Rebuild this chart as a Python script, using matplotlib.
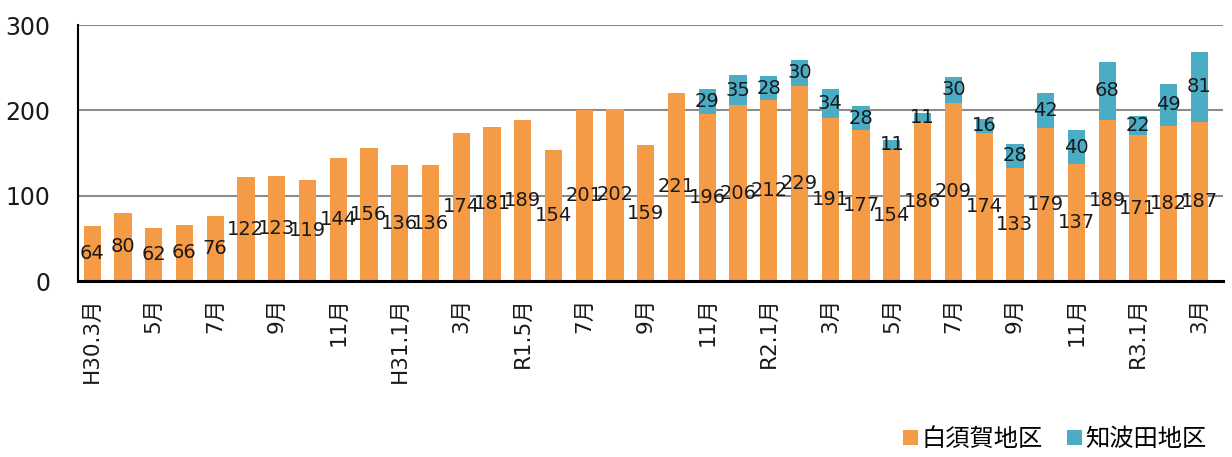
import matplotlib.pyplot as plt
import numpy as np

plt.rcParams['font.family'] = ['DejaVu Sans', 'Noto Sans CJK JP']

# ------------------------------
# Data (monthly counts, H30.3 - R3.3)
# ------------------------------
tick_labels = [
    "H30.3月", "", "5月", "", "7月", "", "9月", "", "11月", "",
    "H31.1月", "", "3月", "", "R1.5月", "", "7月", "", "9月", "",
    "11月", "", "R2.1月", "", "3月", "", "5月", "", "7月", "",
    "9月", "", "11月", "", "R3.1月", "", "3月",
]
shirasuka = [64, 80, 62, 66, 76, 122, 123, 119, 144, 156, 136, 136, 174, 181, 189,
             154, 201, 202, 159, 221, 196, 206, 212, 229, 191, 177, 154, 186, 209,
             174, 133, 179, 137, 189, 171, 182, 187]
# chiba-ta starts at R1.11 (index 20)
chibata = [0] * 20 + [29, 35, 28, 30, 34, 28, 11, 11, 30, 16, 28, 42, 40, 68, 22, 49, 81]

series_names = ["白須賀地区", "知波田地区"]

ORANGE = "#F59A45"
BLUE = "#4BACC6"
TEXT = "#1a1a1a"

fig = plt.figure(figsize=(12.32, 4.57), dpi=100)
ax = fig.add_axes([0.0633, 0.385, 0.929, 0.56])

x = np.arange(len(shirasuka))
s = np.array(shirasuka)
c = np.array(chibata)

b1 = ax.bar(x, s, width=0.56, color=ORANGE, label=series_names[0], zorder=2)
b2 = ax.bar(x, c, width=0.56, bottom=s, color=BLUE, label=series_names[1], zorder=2)

# labels centered in each segment
for i in range(len(x)):
    ax.text(x[i], s[i] / 2, str(s[i]), ha="center", va="center",
            fontsize=14, color=TEXT, zorder=3)
    if c[i] > 0:
        ax.text(x[i], s[i] + c[i] / 2, str(c[i]), ha="center", va="center",
                fontsize=14, color=TEXT, zorder=3)

ax.set_ylim(0, 300)
ax.set_xlim(-0.46, len(x) - 0.25)
ax.set_yticks([0, 100, 200, 300])
ax.tick_params(axis="y", labelsize=17, length=0, pad=20, labelcolor=TEXT)
ax.set_xticks(x)
ax.set_xticklabels(tick_labels, rotation=90, fontsize=15.5, color=TEXT)
ax.tick_params(axis="x", length=0, pad=12)

ax.yaxis.grid(True, color="#8c8c8c", linewidth=1.5, zorder=0)
ax.set_axisbelow(True)
for side in ["top", "right"]:
    ax.spines[side].set_visible(False)
ax.spines["left"].set_color("black")
ax.spines["left"].set_linewidth(1.5)
ax.spines["bottom"].set_color("black")
ax.spines["bottom"].set_linewidth(2.2)

fig.legend(handles=[b1, b2], loc="lower right", bbox_to_anchor=(0.997, -0.035),
           ncol=2, frameon=False, fontsize=17.5, handlelength=0.6, handleheight=0.6,
           handletextpad=0.15, columnspacing=1.0)

fig.savefig("out.png", dpi=100)
